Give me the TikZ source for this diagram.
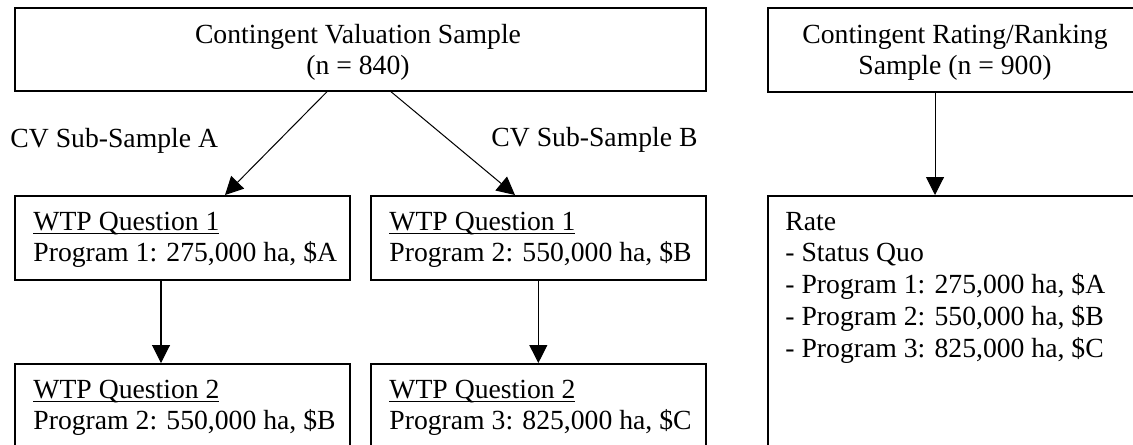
\documentclass[tikz,border=0pt]{standalone}
\usepackage{fontspec}
\setmainfont{Liberation Serif}
\usetikzlibrary{arrows.meta,calc}
\newcommand{\wul}[1]{\setbox0\hbox{#1}\rlap{\rule[-1.8pt]{\wd0}{0.6pt}}\box0}
\begin{document}
\begin{tikzpicture}[x=0.4444pt,y=-0.4444pt,
  box/.style={draw, line width=0.75pt, inner sep=0pt, anchor=north west},
  txt/.style={inner sep=0pt, anchor=base west, font=\fontsize{12.3}{14.2}\selectfont},
  ctxt/.style={inner sep=0pt, anchor=base, font=\fontsize{12.3}{14.2}\selectfont},
  arr/.style={line width=0.45pt, -{Triangle[length=8pt,width=8pt]}}]
\useasboundingbox (0,0) rectangle (1133,444);
\clip (0,0) rectangle (1133,444);
% boxes
\node[box, minimum width=307.08pt, minimum height=36.89pt] (topL) at (14,7) {};
\node[box, minimum width=167.1pt, minimum height=37.33pt] (topR) at (767,7) {};
\node[box, minimum width=148.87pt, minimum height=37.33pt] (wtp1) at (14,195) {};
\node[box, minimum width=148.87pt, minimum height=37.33pt] (wtp2) at (370,195) {};
\node[box, minimum width=148.87pt, minimum height=44.44pt] (q2a) at (14,363) {};
\node[box, minimum width=148.87pt, minimum height=44.44pt] (q2b) at (370,363) {};
\node[box, minimum width=167.1pt, minimum height=120pt] (rate) at (767,195) {};
% texts
\node[ctxt] (t0) at (358,43) {\begin{tabular}[t]{@{}c@{}}Contingent Valuation Sample\\(n = 840)\end{tabular}};
\node[ctxt] (t1) at (955,43) {\begin{tabular}[t]{@{}c@{}}Contingent Rating/Ranking\\Sample (n = 900)\end{tabular}};
\node[txt] (la) at (10,147) {CV Sub-Sample A};
\node[txt] (lb) at (491,146) {CV Sub-Sample B};
\node[txt] (w1) at (33,230) {\begin{tabular}[t]{@{}l@{}}\wul{WTP Question 1}\\Program 1: 275,000 ha, \$A\end{tabular}};
\node[txt] (w2) at (389,230) {\begin{tabular}[t]{@{}l@{}}\wul{WTP Question 1}\\Program 2: 550,000 ha, \$B\end{tabular}};
\node[txt] (w3) at (33,398) {\begin{tabular}[t]{@{}l@{}}\wul{WTP Question 2}\\Program 2: 550,000 ha, \$B\end{tabular}};
\node[txt] (w4) at (389,398) {\begin{tabular}[t]{@{}l@{}}\wul{WTP Question 2}\\Program 3: 825,000 ha, \$C\end{tabular}};
\node[txt] (rt) at (785,230) {\begin{tabular}[t]{@{}l@{}}Rate\\- Status Quo\\- Program 1: 275,000 ha, \$A\\- Program 2: 550,000 ha, \$B\\- Program 3: 825,000 ha, \$C\end{tabular}};
% arrows
\draw[arr] ($(topL.south west)+(313,0)$) -- ($(wtp1.north west)+(211,0)$);
\draw[arr] ($(topL.south west)+(377,0)$) -- ($(wtp2.north west)+(145,0)$);
\draw[arr] ($(wtp1.south west)+(147,0)$) -- ($(q2a.north west)+(147,0)$);
\draw[arr] (wtp2.south) -- (q2b.north);
\draw[arr] ($(topR.south west)+(168,0)$) -- ($(rate.north west)+(168,0)$);
\end{tikzpicture}
\end{document}
